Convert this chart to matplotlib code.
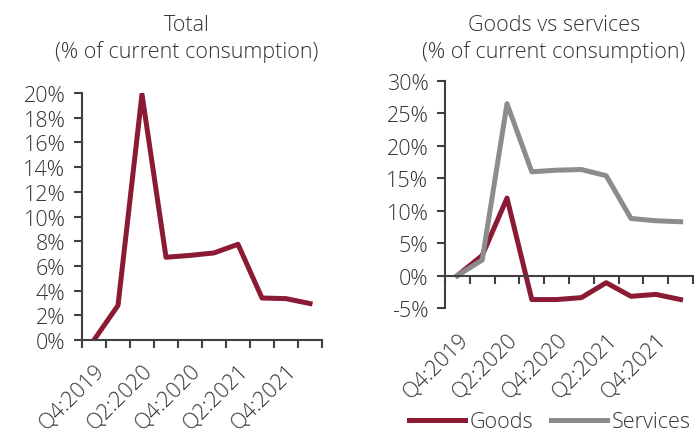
import numpy as np
import matplotlib
matplotlib.use('Agg')
import matplotlib.pyplot as plt
from matplotlib.ticker import FuncFormatter

plt.rcParams['font.family'] = ['Open Sans', 'DejaVu Sans']
plt.rcParams['font.weight'] = 'light'

quarters = ['Q4:2019', 'Q1:2020', 'Q2:2020', 'Q3:2020', 'Q4:2020',
            'Q1:2021', 'Q2:2021', 'Q3:2021', 'Q4:2021', 'Q1:2022']
total = [0.0, 2.8, 19.9, 6.7, 6.85, 7.05, 7.75, 3.4, 3.35, 2.95]
goods = [0.0, 3.1, 11.95, -3.7, -3.7, -3.4, -1.1, -3.2, -2.9, -3.7]
services = [0.0, 2.4, 26.5, 16.0, 16.25, 16.35, 15.4, 8.8, 8.45, 8.3]

maroon = '#8b1a35'
grey = '#8c8c8c'
axcol = '#404040'
txtcol = '#333333'
fs = 15.5

fig = plt.figure(figsize=(6.96, 4.31), dpi=100)
ax1 = fig.add_axes([82/696, 90/431, 240/696, 247/431])
ax2 = fig.add_axes([445/696, 122/431, 248/696, 227/431])

x = np.arange(len(quarters))
pct = FuncFormatter(lambda v, p: '%d%%' % v)


def style(ax, pad):
    for s in ['top', 'right']:
        ax.spines[s].set_visible(False)
    for s in ['left', 'bottom']:
        ax.spines[s].set_color(axcol)
        ax.spines[s].set_linewidth(1.5)
    ax.set_xlim(-0.5, len(quarters) - 0.5)
    ax.set_xticks(np.arange(-0.5, len(quarters)))
    ax.set_xticklabels([])
    ax.set_xticks(x[::2], minor=True)
    ax.set_xticklabels(quarters[::2], minor=True, rotation=45, ha='right',
                       rotation_mode='anchor', fontsize=fs, color=txtcol)
    ax.tick_params(axis='x', which='major', direction='out', length=6,
                   width=1.5, color=axcol)
    ax.tick_params(axis='x', which='minor', length=0, pad=pad)
    ax.tick_params(axis='y', direction='out', length=6, width=1.5, pad=6,
                   color=axcol, labelsize=fs, labelcolor=txtcol)
    ax.yaxis.set_major_formatter(pct)


ax1.plot(x, total, color=maroon, lw=3.6)
ax1.set_ylim(0, 20)
ax1.set_yticks(np.arange(0, 21, 2))
style(ax1, 14)

ax2.plot(x, goods, color=maroon, lw=3.6, label='Goods')
ax2.plot(x, services, color=grey, lw=3.6, label='Services')
ax2.set_ylim(-5, 30)
ax2.set_yticks(np.arange(-5, 31, 5))
ax2.spines['bottom'].set_position(('data', 0))
style(ax2, 38)

leg = fig.legend(*ax2.get_legend_handles_labels(), loc='center',
                 bbox_to_anchor=(550/696, 1 - 423/431), ncol=2,
                 frameon=False, fontsize=fs, handlelength=2.6,
                 columnspacing=0.8, handletextpad=0.25, borderpad=0)
for t in leg.get_texts():
    t.set_color(txtcol)

fig.text(187/696, 1 - 39/431, 'Total\n(% of current consumption)', ha='center',
         va='center', fontsize=fs, color=txtcol, linespacing=1.3)
fig.text(554/696, 1 - 39/431, 'Goods vs services\n(% of current consumption)',
         ha='center', va='center', fontsize=fs, color=txtcol, linespacing=1.3)

fig.savefig('out.png', dpi=100)
